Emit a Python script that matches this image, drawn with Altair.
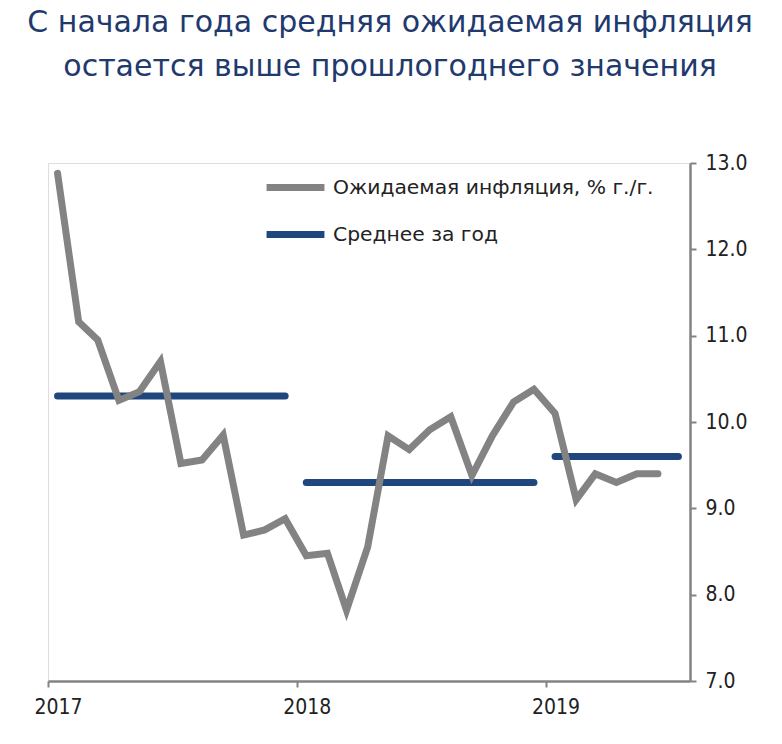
import altair as alt
import pandas as pd

# Monthly expected inflation, % y/y (points at mid-month)
month_starts = [d.strftime("%Y-%m-") + "15" for d in pd.date_range("2017-01-01", periods=30, freq="MS")]
infl_values = [12.88, 11.16, 10.95, 10.25, 10.35, 10.70, 9.52, 9.56, 9.85, 8.69, 8.75, 8.88,
               8.45, 8.48, 7.82, 8.55, 9.84, 9.68, 9.91, 10.06, 9.38, 9.84, 10.23, 10.38,
               10.10, 9.10, 9.40, 9.30, 9.40, 9.40]

avg_years = [2017, 2018, 2019]
avg_values = [10.3, 9.3, 9.6]
avg_start = ["2017-01-15", "2018-01-15", "2019-01-15"]
avg_end = ["2017-12-15", "2018-12-15", "2019-07-15"]

S1 = "Ожидаемая инфляция, % г./г."
S2 = "Среднее за год"
GRAY = "#838383"
BLUE = "#1f477e"
TITLE_FONT = "DejaVu Sans"
LEG_FONT = "DejaVu Sans"
AX_FONT = "Liberation Sans Narrow, DejaVu Sans Condensed, Noto Sans"

line_df = pd.DataFrame({"date": month_starts, "value": infl_values, "series": S1})

avg_rows = []
for y, v, s, e in zip(avg_years, avg_values, avg_start, avg_end):
    avg_rows.append({"date": s, "value": v, "year": y, "series": S2})
    avg_rows.append({"date": e, "value": v, "year": y, "series": S2})
avg_df = pd.DataFrame(avg_rows)

x_enc = alt.X(
    "date:T",
    scale=alt.Scale(type="utc",
                    domain=[alt.DateTime(year=2017, month=1, date=1, utc=True),
                            alt.DateTime(year=2019, month=8, date=1, utc=True)]),
    axis=alt.Axis(
        values=[alt.DateTime(year=y, month=1, date=1, utc=True) for y in [2017, 2018, 2019]],
        format="%Y", title=None, grid=False, domainColor=GRAY, domainWidth=2.5,
        tickColor=GRAY, tickWidth=2, tickSize=6, labelFontSize=21, labelColor="#222222",
        labelFont=AX_FONT, labelPadding=9, labelFlush=False, labelOffset=10,
    ),
)
y_enc = alt.Y(
    "value:Q",
    scale=alt.Scale(domain=[7, 13], nice=False, zero=False),
    axis=alt.Axis(
        orient="right", values=[7, 8, 9, 10, 11, 12, 13], format=".1f", title=None, grid=False,
        domainColor=GRAY, domainWidth=2.5, tickColor=GRAY, tickWidth=2, tickSize=6,
        labelFontSize=21, labelColor="#222222", labelFont=AX_FONT, labelPadding=9,
    ),
)
color_enc = alt.Color(
    "series:N",
    scale=alt.Scale(domain=[S1, S2], range=[GRAY, BLUE]),
    legend=alt.Legend(
        title=None, orient="none", legendX=215, legendY=-8, symbolType="stroke",
        symbolSize=3350, symbolStrokeWidth=7, labelFontSize=20.3, labelFont=LEG_FONT,
        labelColor="#222222", labelOffset=5, rowPadding=0, labelLimit=400,
    ),
)

avg = alt.Chart(avg_df).mark_line(strokeWidth=7, strokeCap="round").encode(
    x=x_enc, y=y_enc, color=color_enc, detail="year:N"
)
line = alt.Chart(line_df).mark_line(strokeWidth=7, strokeCap="round", strokeJoin="miter").encode(
    x=x_enc, y=y_enc, color=color_enc
)

chart = alt.layer(avg, line).properties(
    width=642, height=518,
    autosize=alt.AutoSizeParams(type="none"),
    padding={"left": 48, "top": 163, "right": 92, "bottom": 63},
    title=alt.TitleParams(
        text=["С начала года средняя ожидаемая инфляция", "остается выше прошлогоднего значения"],
        fontSize=30, font=TITLE_FONT, color="#1f3a6e", fontWeight="normal", anchor="middle",
        lineHeight=44, offset=70, dx=21,
    ),
).configure_view(stroke=None).configure(background="white")

chart.save("out.html", embed_options={"renderer": "svg", "actions": False})
